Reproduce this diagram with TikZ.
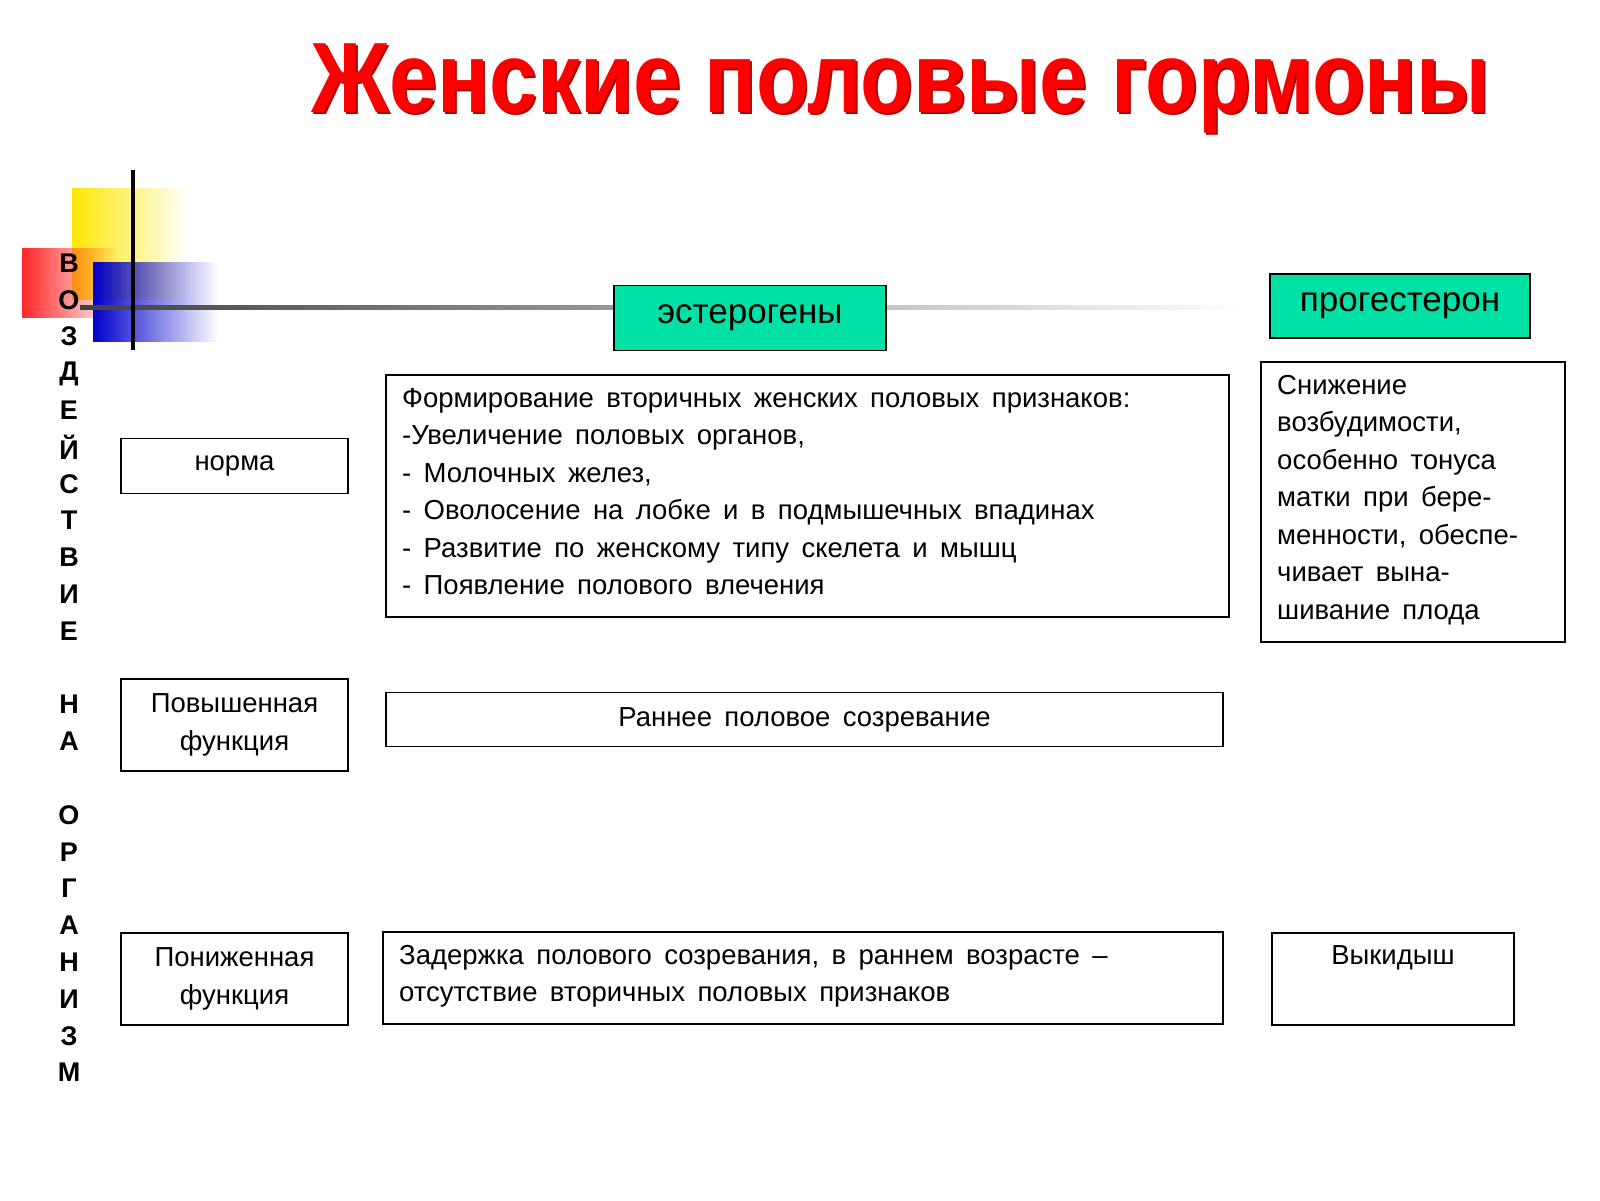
\documentclass[tikz,border=0pt]{standalone}
\usepackage{fontspec}
\setmainfont{Liberation Sans}
\usetikzlibrary{fadings}
\newcommand{\wsp}{\spaceskip=0.45em plus 0.1em\relax}
\begin{document}
\begin{tikzpicture}[x=1pt,y=-1pt,
  bx/.style={draw=black,line width=1.2pt},
  txt/.style={font=\fontsize{27.5}{37.5}\selectfont\wsp,align=left,inner sep=0pt},
  hdr/.style={draw=black,line width=1.2pt,fill={rgb,255:red,0;green,225;blue,165}},
  vl/.style={font=\fontsize{27}{30}\selectfont\bfseries,inner sep=0pt}]
\useasboundingbox (0,0) rectangle (1600,1200);
% decoration
\fill[yellow!90!orange, path fading=east] (72,188) rectangle (188,300);
\fill[red!85!white, path fading=east] (22,248) rectangle (118,318);
\fill[blue!80!black, path fading=east] (93,262) rectangle (218,342);
\shade[left color=black!75, right color=white] (80,305) rectangle (1245,309);
\draw[line width=4pt] (133,170) -- (133,350);
% title
\node[inner sep=0pt] (title) at (903,90) {\scalebox{0.86}[1]{\fontsize{100}{100}\selectfont\bfseries\color{red!70!black}Женские половые гормоны}};
\node[inner sep=0pt] (title2) at (901,88) {\scalebox{0.86}[1]{\fontsize{100}{100}\selectfont\bfseries\color{red}Женские половые гормоны}};
% vertical text
\foreach \l [count=\i] in {В,О,З,Д,Е,Й,С,Т,В,И,Е,,Н,А,,О,Р,Г,А,Н,И,З,М}
  \node[vl] (v\i) at (69,{263+(\i-1)*36.8}) {\l};
% headers
\node[hdr,minimum width=272pt,minimum height=65pt,font=\fontsize{35}{36}\selectfont] (est) at (750,318) {эстерогены};
\node[hdr,minimum width=260pt,minimum height=64pt,font=\fontsize{35}{36}\selectfont] (prog) at (1400,306) {прогестерон};
% boxes
\draw[bx] (386,375) rectangle (1229,617);
\node[txt,anchor=north west] (b1) at (402,388) {Формирование вторичных женских половых признаков:\\-Увеличение половых органов,\\- Молочных желез,\\- Оволосение на лобке и в подмышечных впадинах\\- Развитие по женскому типу скелета и мышц\\- Появление полового влечения};
\draw[bx] (1261,362) rectangle (1565,642);
\node[txt,anchor=north west] (b2) at (1277,375) {Снижение\\возбудимости,\\особенно тонуса\\матки при бере-\\менности, обеспе-\\чивает вына-\\шивание плода};
\node[bx,txt,align=center,minimum width=227pt,minimum height=55pt] (n1) at (234.5,466) {норма};
\node[bx,txt,align=center,minimum width=227pt,minimum height=92pt] (n2) at (234.5,725) {Повышенная\\функция};
\node[bx,txt,align=center,minimum width=837pt,minimum height=54pt] (b3) at (804.5,719.5) {Раннее половое созревание};
\node[bx,txt,align=center,minimum width=227pt,minimum height=92pt] (n3) at (234.5,979) {Пониженная\\функция};
\draw[bx] (383,932) rectangle (1223,1024);
\node[txt,anchor=north west] (b4) at (399,945) {Задержка полового созревания, в раннем возрасте –\\отсутствие вторичных половых признаков};
\draw[bx] (1272,933) rectangle (1514,1025);
\node[txt,anchor=north] (b5) at (1393,945) {Выкидыш};
\end{tikzpicture}
\end{document}
